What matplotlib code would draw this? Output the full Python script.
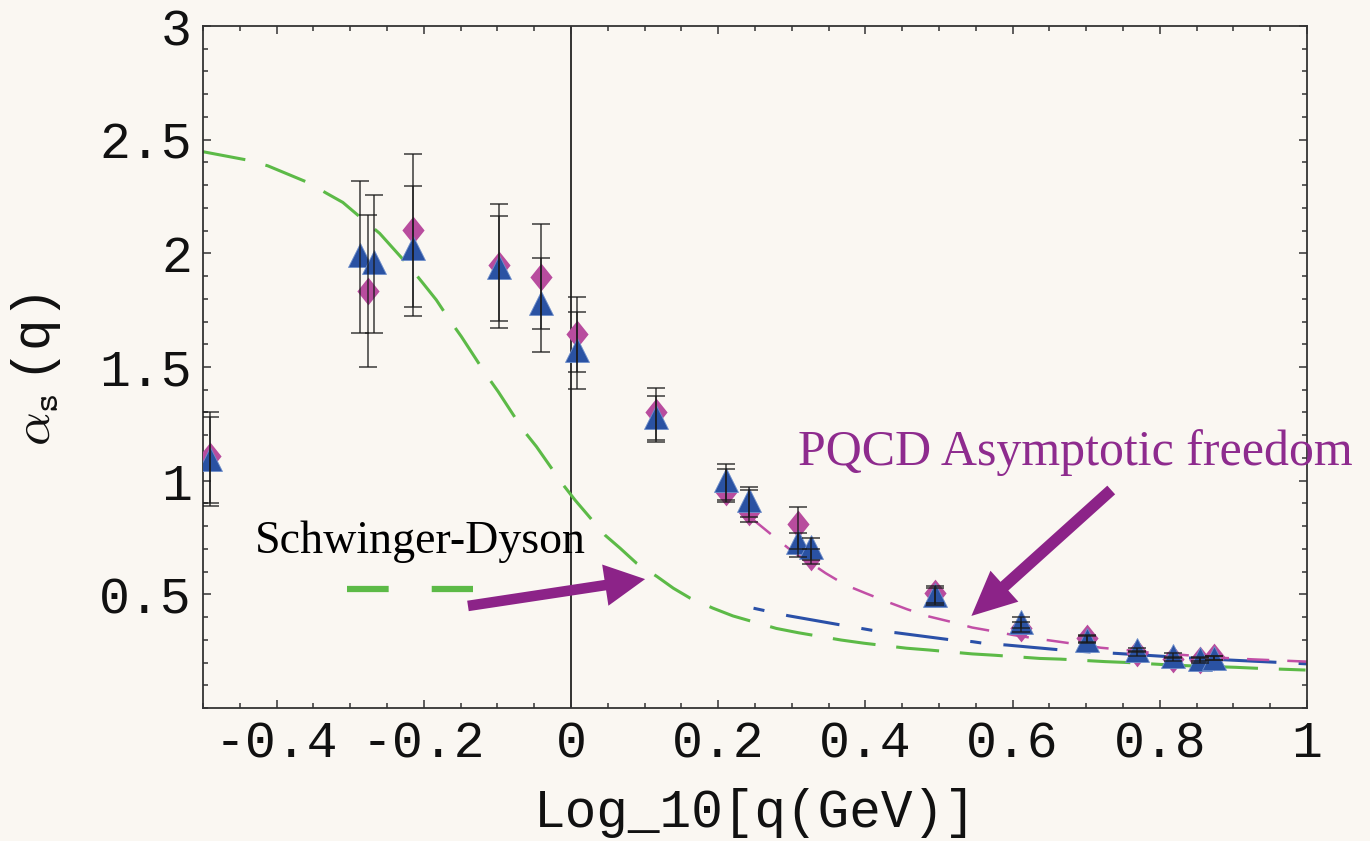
import matplotlib
matplotlib.use("Agg")
import matplotlib.pyplot as plt
from matplotlib.ticker import MultipleLocator, FixedLocator

plt.rcParams['lines.scale_dashes'] = False
plt.rcParams['mathtext.fontset'] = 'cm'

# ---------------- data ----------------
dia_x = [-0.491, -0.276, -0.215, -0.0975, -0.041, 0.0077, 0.1156, 0.2105, 0.242, 0.308, 0.326,
         0.494, 0.612, 0.701, 0.769, 0.818, 0.854, 0.874]
dia_y = [1.11, 1.835, 2.103, 1.95, 1.898, 1.644, 1.304, 0.952, 0.864, 0.81, 0.666,
         0.504, 0.35, 0.306, 0.24, 0.214, 0.211, 0.223]
dia_lo = [0.90, 1.50, 1.726, 1.67, 1.666, 1.476, 1.179, 0.908, 0.82, 0.70, 0.634,
          0.46, 0.336, 0.29, 0.23, 0.205, 0.20, 0.21]
dia_hi = [1.30, 2.167, 2.436, 2.216, 2.129, 1.808, 1.409, 1.050, 0.959, 0.882, 0.70,
          0.538, 0.38, 0.32, 0.25, 0.225, 0.22, 0.23]

tri_x = [-0.491, -0.287, -0.267, -0.215, -0.0975, -0.041, 0.0077, 0.1156, 0.2105, 0.242, 0.308, 0.326,
         0.494, 0.612, 0.701, 0.769, 0.818, 0.854, 0.874]
tri_y = [1.095, 1.993, 1.964, 2.022, 1.94, 1.78, 1.575, 1.282, 1.003, 0.915, 0.73, 0.71,
         0.497, 0.38, 0.299, 0.255, 0.229, 0.214, 0.218]
tri_lo = [0.89, 1.65, 1.651, 1.766, 1.702, 1.568, 1.402, 1.169, 0.915, 0.839, 0.666, 0.65,
          0.453, 0.35, 0.285, 0.245, 0.22, 0.205, 0.21]
tri_hi = [1.28, 2.32, 2.257, 2.298, 2.164, 1.978, 1.74, 1.374, 1.072, 0.974, 0.771, 0.746,
          0.53, 0.40, 0.315, 0.265, 0.24, 0.225, 0.228]

green_x = [-0.5, -0.441, -0.412, -0.357, -0.332, -0.310, -0.282, -0.26, -0.219, -0.201, -0.183,
           -0.165, -0.149, -0.115, -0.099, -0.065, -0.047, -0.0105, 0.0054, 0.046, 0.0667, 0.089,
           0.117, 0.139, 0.162, 0.193, 0.220, 0.279, 0.309, 0.367, 0.398, 0.456, 0.487, 0.545,
           0.576, 0.637, 0.665, 0.726, 0.757, 0.815, 0.845, 0.903, 0.937, 0.998]
green_y = [2.447, 2.411, 2.385, 2.311, 2.264, 2.224, 2.147, 2.088, 1.94, 1.868, 1.795, 1.707,
           1.634, 1.465, 1.392, 1.223, 1.15, 0.981, 0.915, 0.761, 0.703, 0.637, 0.578, 0.527,
           0.483, 0.439, 0.405, 0.350, 0.331, 0.299, 0.285, 0.263, 0.255, 0.238, 0.232, 0.218,
           0.215, 0.204, 0.2, 0.189, 0.185, 0.179, 0.174, 0.167]

blue_x = [0.248, 0.265, 0.295, 0.367, 0.398, 0.412, 0.442, 0.518, 0.545, 0.562, 0.592, 0.667,
          0.698, 0.742, 0.85, 0.965, 1.0]
blue_y = [0.439, 0.427, 0.406, 0.365, 0.348, 0.340, 0.331, 0.299, 0.292, 0.284, 0.277, 0.255,
          0.248, 0.240, 0.218, 0.2, 0.194]

mag_x = [0.248, 0.273, 0.301, 0.326, 0.346, 0.373, 0.401, 0.429, 0.457, 0.487, 0.515, 0.545,
         0.573, 0.601, 0.631, 0.662, 0.695, 0.720, 0.754, 0.781, 0.815, 0.870, 0.926, 1.0]
mag_y = [0.827, 0.761, 0.688, 0.637, 0.593, 0.541, 0.504, 0.468, 0.434, 0.402, 0.380, 0.354,
         0.338, 0.321, 0.306, 0.292, 0.277, 0.265, 0.255, 0.245, 0.238, 0.223, 0.214, 0.204]

x_ticks = [-0.4, -0.2, 0, 0.2, 0.4, 0.6, 0.8, 1]
x_ticklabels = ["-0.4", "-0.2", "0", "0.2", "0.4", "0.6", "0.8", "1"]
y_ticks = [0.5, 1, 1.5, 2, 2.5, 3]
y_ticklabels = ["0.5", "1", "1.5", "2", "2.5", "3"]

# ---------------- style ----------------
bg = '#FAF7F2'
c_dia = '#B84C9E'
c_tri = '#2A52A3'
c_green = '#5CBA47'
c_blue = '#2A50A8'
c_mag = '#C24FA6'
c_purple = '#8C2388'
mono = 'Liberation Mono'
serif = 'Liberation Serif'

fig = plt.figure(figsize=(13.7, 8.41), dpi=100, facecolor=bg)
ax = fig.add_axes([203/1370, 1-708/841, (1307-203)/1370, (708-26)/841])
ax.set_facecolor(bg)
ax.set_xlim(-0.5, 1.0)
ax.set_ylim(0, 3)

# vertical line at x=0
ax.axvline(0, color='#111111', lw=1.2, zorder=1)

# curves
lg, = ax.plot(green_x, green_y, color=c_green, lw=2.2, zorder=2)
lg.set_dashes([31, 15])
lb, = ax.plot(blue_x, blue_y, color=c_blue, lw=2.2, zorder=2)
lb.set_dashes([8, 16, 39, 16])
lm, = ax.plot(mag_x, mag_y, color=c_mag, lw=1.8, zorder=2)
lm.set_dashes([16, 13])

# error bars
for xs, ys, lo, hi in [(dia_x, dia_y, dia_lo, dia_hi), (tri_x, tri_y, tri_lo, tri_hi)]:
    yerr = [[y - l for y, l in zip(ys, lo)], [h - y for y, h in zip(ys, hi)]]
    ax.errorbar(xs, ys, yerr=yerr, fmt='none', ecolor='#1a1a1a', elinewidth=1.1,
                capsize=6.5, capthick=1.1, alpha=0.85, zorder=5)

diamond = [(-0.8, 0), (0, 1), (0.8, 0), (0, -1), (-0.8, 0)]
ax.plot(dia_x, dia_y, linestyle='none', marker=diamond, ms=20, color=c_dia,
        markeredgewidth=0, zorder=3)
ax.plot(tri_x, tri_y, linestyle='none', marker='^', ms=17, color=c_tri,
        markeredgecolor='#6F8FCB', markeredgewidth=0.6, zorder=4)

# annotations
ax.text(-0.43, 0.68, "Schwinger-Dyson", fontfamily=serif, fontsize=33, color='black',
        ha='left', va='baseline', zorder=6)
ls, = ax.plot([-0.305, -0.133], [0.522, 0.522], color=c_green, lw=4.5, zorder=6)
ls.set_dashes([30, 31])
ax.annotate('', xy=(0.1007, 0.567), xytext=(-0.14, 0.449),
            arrowprops=dict(arrowstyle='simple,head_length=1.45,head_width=1.5,tail_width=0.38',
                            mutation_scale=20, color=c_purple, shrinkA=0, shrinkB=0, lw=0),
            zorder=7)

ax.text(0.309, 1.07, "PQCD Asymptotic freedom", fontfamily=serif, fontsize=36,
        color='#8E2B8E', ha='left', va='baseline', zorder=6, clip_on=False)
ax.annotate('', xy=(0.544, 0.405), xytext=(0.734, 0.959),
            arrowprops=dict(arrowstyle='simple,head_length=1.6,head_width=1.5,tail_width=0.42',
                            mutation_scale=20, color=c_purple, shrinkA=0, shrinkB=0, lw=0),
            zorder=7)

# axes / ticks
ax.xaxis.set_major_locator(FixedLocator(x_ticks))
ax.yaxis.set_major_locator(FixedLocator(y_ticks))
ax.set_xticklabels(x_ticklabels)
ax.set_yticklabels(y_ticklabels)
ax.xaxis.set_minor_locator(MultipleLocator(0.05))
ax.yaxis.set_minor_locator(MultipleLocator(0.1))
ax.tick_params(which='both', direction='in', top=True, right=True, color='#333333', width=1.1)
ax.tick_params(which='major', length=6)
ax.tick_params(which='minor', length=3.5)
ax.tick_params(axis='x', which='major', pad=8)
ax.tick_params(axis='y', which='major', pad=8)
for lab in ax.get_xticklabels() + ax.get_yticklabels():
    lab.set_fontfamily(mono)
    lab.set_fontsize(37)
    lab.set_color('#111111')
for s in ax.spines.values():
    s.set_color('#333333')
    s.set_linewidth(1.3)

ax.set_xlabel("Log_10[q(GeV)]", fontfamily=mono, fontsize=38, color='#111111', labelpad=14)
ax.set_ylabel(r"$\alpha_{\mathtt{s}}\,$(q)", fontfamily=mono, fontsize=38, color='#111111')
ax.yaxis.set_label_coords(-0.127, 0.496)

fig.savefig("out.png", dpi=100, facecolor=bg)
